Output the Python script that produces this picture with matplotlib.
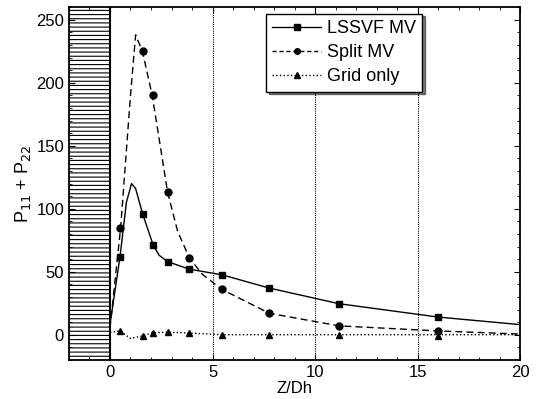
from matplotlib import pyplot as plt
from matplotlib.ticker import MultipleLocator

plt.rcParams['font.family'] = ['Liberation Sans', 'DejaVu Sans']
plt.rcParams['font.size'] = 11
plt.rcParams['hatch.linewidth'] = 0.8

# marker positions (Z/Dh)
z_mark = [0.49, 1.59, 2.11, 2.81, 3.87, 5.45, 7.77, 11.17, 16.0]

lssvf_mark = [62, 96, 71, 58, 52, 47.6, 37, 24.6, 14]
split_mark = [85, 225, 190, 113, 61, 36, 17, 7, 3]
grid_mark = [3, -1, 1.5, 2, 1.3, 0, 0, 0, -1]

# curves (include peaks between markers)
lssvf_z = [0, 0.49, 0.8, 1.05, 1.25, 1.59, 2.11, 2.4, 2.81, 3.87, 5.45, 7.77, 11.17, 16.0, 20]
lssvf_y = [8, 62, 105, 120, 116, 96, 71, 63, 58, 52, 47.6, 37, 24.6, 14, 8]

split_z = [0, 0.52, 1.0, 1.25, 1.58, 2.06, 2.81, 3.3, 3.87, 4.5, 5.45, 7.77, 11.17, 16.0, 20]
split_y = [5, 85, 190, 238, 225, 190, 113, 82, 61, 48, 36, 17, 7, 3, 0.5]

grid_z = [0, 0.49, 1.0, 1.58, 2.06, 2.81, 3.87, 5.45, 7.77, 11.17, 16.0, 20]
grid_y = [2, 3, -3, -1, 1.5, 2, 1.3, 0, 0, 0, 0, 0]

dash = (0, (5, 3))

fig = plt.figure(figsize=(5.43, 3.99), dpi=100)
ax = fig.add_axes([0.127, 0.098, 0.831, 0.884])

ax.axvspan(-2, 0, facecolor='white', edgecolor='black', hatch='----', lw=0, zorder=1)
ax.axvline(0, color='black', lw=1.5, zorder=2)
for xv in [5, 10, 15]:
    ax.axvline(xv, color='black', lw=0.8, ls=(0, (1, 1)), zorder=1)

ax.plot(lssvf_z, lssvf_y, color='black', ls='-', lw=1, zorder=3)
ax.plot(split_z, split_y, color='black', ls=dash, lw=1, zorder=3)
ax.plot(grid_z, grid_y, color='black', ls=':', lw=1, zorder=3)
ax.plot(z_mark, lssvf_mark, 'ks', ms=5, zorder=4)
ax.plot(z_mark, split_mark, 'ko', ms=5, zorder=4)
ax.plot(z_mark, grid_mark, 'k^', ms=5, zorder=4)

# legend handles
ax.plot([], [], color='black', ls='-', lw=1, marker='s', ms=4, label='LSSVF MV')
ax.plot([], [], color='black', ls=(0, (3, 2)), lw=1, marker='o', ms=4, label='Split MV')
ax.plot([], [], color='black', ls=':', lw=1, marker='^', ms=4, label='Grid only')
handles, labels = ax.get_legend_handles_labels()
leg = ax.legend(handles[-3:], labels[-3:], loc='upper left', bbox_to_anchor=(0.437, 0.982),
                borderaxespad=0,
                fancybox=False, edgecolor='black', shadow={'color': 'black'},
                handlelength=2.7, handletextpad=0.3, borderpad=0.35, labelspacing=0.4,
                fontsize=13, framealpha=1)
leg.get_frame().set_linewidth(1.0)

ax.set_xlim(-2, 20)
ax.set_ylim(-20, 260)
ax.xaxis.set_major_locator(MultipleLocator(5))
ax.xaxis.set_minor_locator(MultipleLocator(1))
ax.yaxis.set_major_locator(MultipleLocator(50))
ax.yaxis.set_minor_locator(MultipleLocator(10))
ax.tick_params(which='both', direction='in', top=True, right=True)
ax.tick_params(which='major', length=4, labelsize=12)
ax.tick_params(which='minor', length=2)
for s in ax.spines.values():
    s.set_linewidth(1.3)

ax.set_xlabel('Z/Dh', fontsize=12, labelpad=1)
ax.set_ylabel('P$_{11}$ + P$_{22}$', fontsize=13, labelpad=2)

plt.savefig('out.png', dpi=100)
